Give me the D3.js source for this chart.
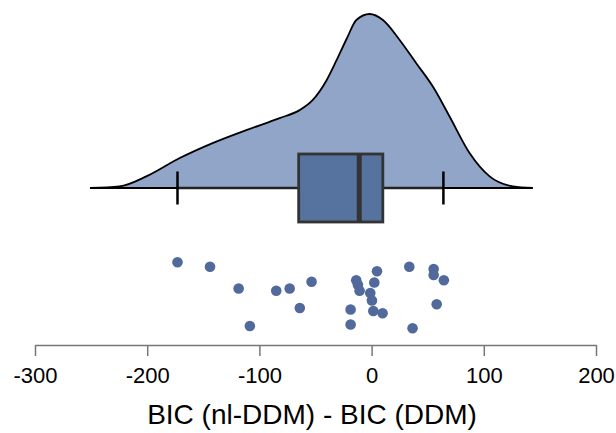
<!DOCTYPE html>
<html>
<head>
<meta charset="utf-8">
<script src="https://cdn.jsdelivr.net/npm/d3@7"></script>
<style>
  body { margin: 0; background: #fff; }
  text { font-family: "Liberation Sans", Arial, sans-serif; }
</style>
</head>
<body>
<div id="chart"></div>
<script>
// BIC differences (one per participant) and their vertical jitter (0..1)
const bicDiff = [-173, -144, -118.5, -108.5, -85, -73, -64, -53.5, -18.7, -18.7,
                 -13.7, -12.2, -10.7, -1.2, 0.3, 1.5, 2.4, 4.8, 9.8, 33.6,
                 36.5, 55.3, 55.3, 58, 64.4];
const jitter = [0.93, 0.87, 0.58, 0.08, 0.55, 0.58, 0.32, 0.67, 0.30, 0.10,
                0.69, 0.63, 0.55, 0.52, 0.42, 0.28, 0.66, 0.81, 0.25, 0.87,
                0.05, 0.84, 0.76, 0.37, 0.69];

// density curve (x, relative height)
const densX = [-251, -224.6, -200.8, -171, -141.7, -111.7, -82, -64.2, -52.6, -40.1,
               -31.2, -22, -13.6, -1.8, 10.1, 25, 39.8, 54.6, 69.5, 87.3,
               105.2, 126, 143.8];
const densY = [0, 1.6, 11.6, 30, 45, 58, 70, 78, 88, 108,
               128, 150, 168.3, 174.3, 168.3, 148.3, 125, 101.6, 71.6, 35,
               11.6, 1.6, 0];

// box plot summary
const whiskerLow = -173, q1 = -65, median = -11, q3 = 10, whiskerHigh = 64;

const xTicks = [-300, -200, -100, 0, 100, 200];

const width = 616, height = 433;
const svg = d3.select("#chart").append("svg")
  .attr("width", width)
  .attr("height", height);

const x = d3.scaleLinear().domain([-300, 200]).range([35, 596]);
const yDens = d3.scaleLinear().domain([0, 174.3]).range([188, 14]);
const yJit = d3.scaleLinear().domain([0, 1]).range([332, 257]);

// density
const densData = densX.map((d, i) => [d, densY[i]]);
const area = d3.area()
  .x(d => x(d[0]))
  .y0(yDens(0))
  .y1(d => yDens(d[1]))
  .curve(d3.curveMonotoneX);
svg.append("path")
  .datum(densData)
  .attr("d", area)
  .attr("fill", "#90a5c7")
  .attr("stroke", "#000")
  .attr("stroke-width", 1.8);

// box plot
const boxMid = yDens(0), boxHalf = 34, capHalf = 16.5;
svg.append("line")
  .attr("x1", x(whiskerLow)).attr("x2", x(whiskerHigh))
  .attr("y1", boxMid).attr("y2", boxMid)
  .attr("stroke", "#222").attr("stroke-width", 2.5);
[whiskerLow, whiskerHigh].forEach(v => {
  svg.append("line")
    .attr("x1", x(v)).attr("x2", x(v))
    .attr("y1", boxMid - capHalf).attr("y2", boxMid + capHalf)
    .attr("stroke", "#000").attr("stroke-width", 2.5);
});
svg.append("rect")
  .attr("x", x(q1)).attr("y", boxMid - boxHalf)
  .attr("width", x(q3) - x(q1)).attr("height", boxHalf * 2)
  .attr("fill", "#56729f")
  .attr("stroke", "#333").attr("stroke-width", 2.8);
svg.append("line")
  .attr("x1", x(median)).attr("x2", x(median))
  .attr("y1", boxMid - boxHalf).attr("y2", boxMid + boxHalf)
  .attr("stroke", "#333").attr("stroke-width", 5);

// points
svg.selectAll(".pt")
  .data(bicDiff)
  .join("circle")
    .attr("class", "pt")
    .attr("cx", d => x(d))
    .attr("cy", (d, i) => yJit(jitter[i]))
    .attr("r", 5.3)
    .attr("fill", "#51699b");

// axis
const axis = svg.append("g")
  .attr("transform", "translate(0,345)")
  .call(d3.axisBottom(x)
    .tickValues(xTicks)
    .tickFormat(d => String(d))
    .tickSize(11).tickPadding(11).tickSizeOuter(0));
axis.select(".domain").attr("stroke", "#777").attr("stroke-width", 1.5);
axis.selectAll(".tick line").attr("stroke", "#777").attr("stroke-width", 1.5);
axis.selectAll(".tick text")
  .attr("fill", "#000")
  .style("font-size", "22px");

svg.append("text")
  .attr("x", 312)
  .attr("y", 424)
  .attr("text-anchor", "middle")
  .style("font-size", "28px")
  .text("BIC (nl-DDM) - BIC (DDM)");
</script>
</body>
</html>
